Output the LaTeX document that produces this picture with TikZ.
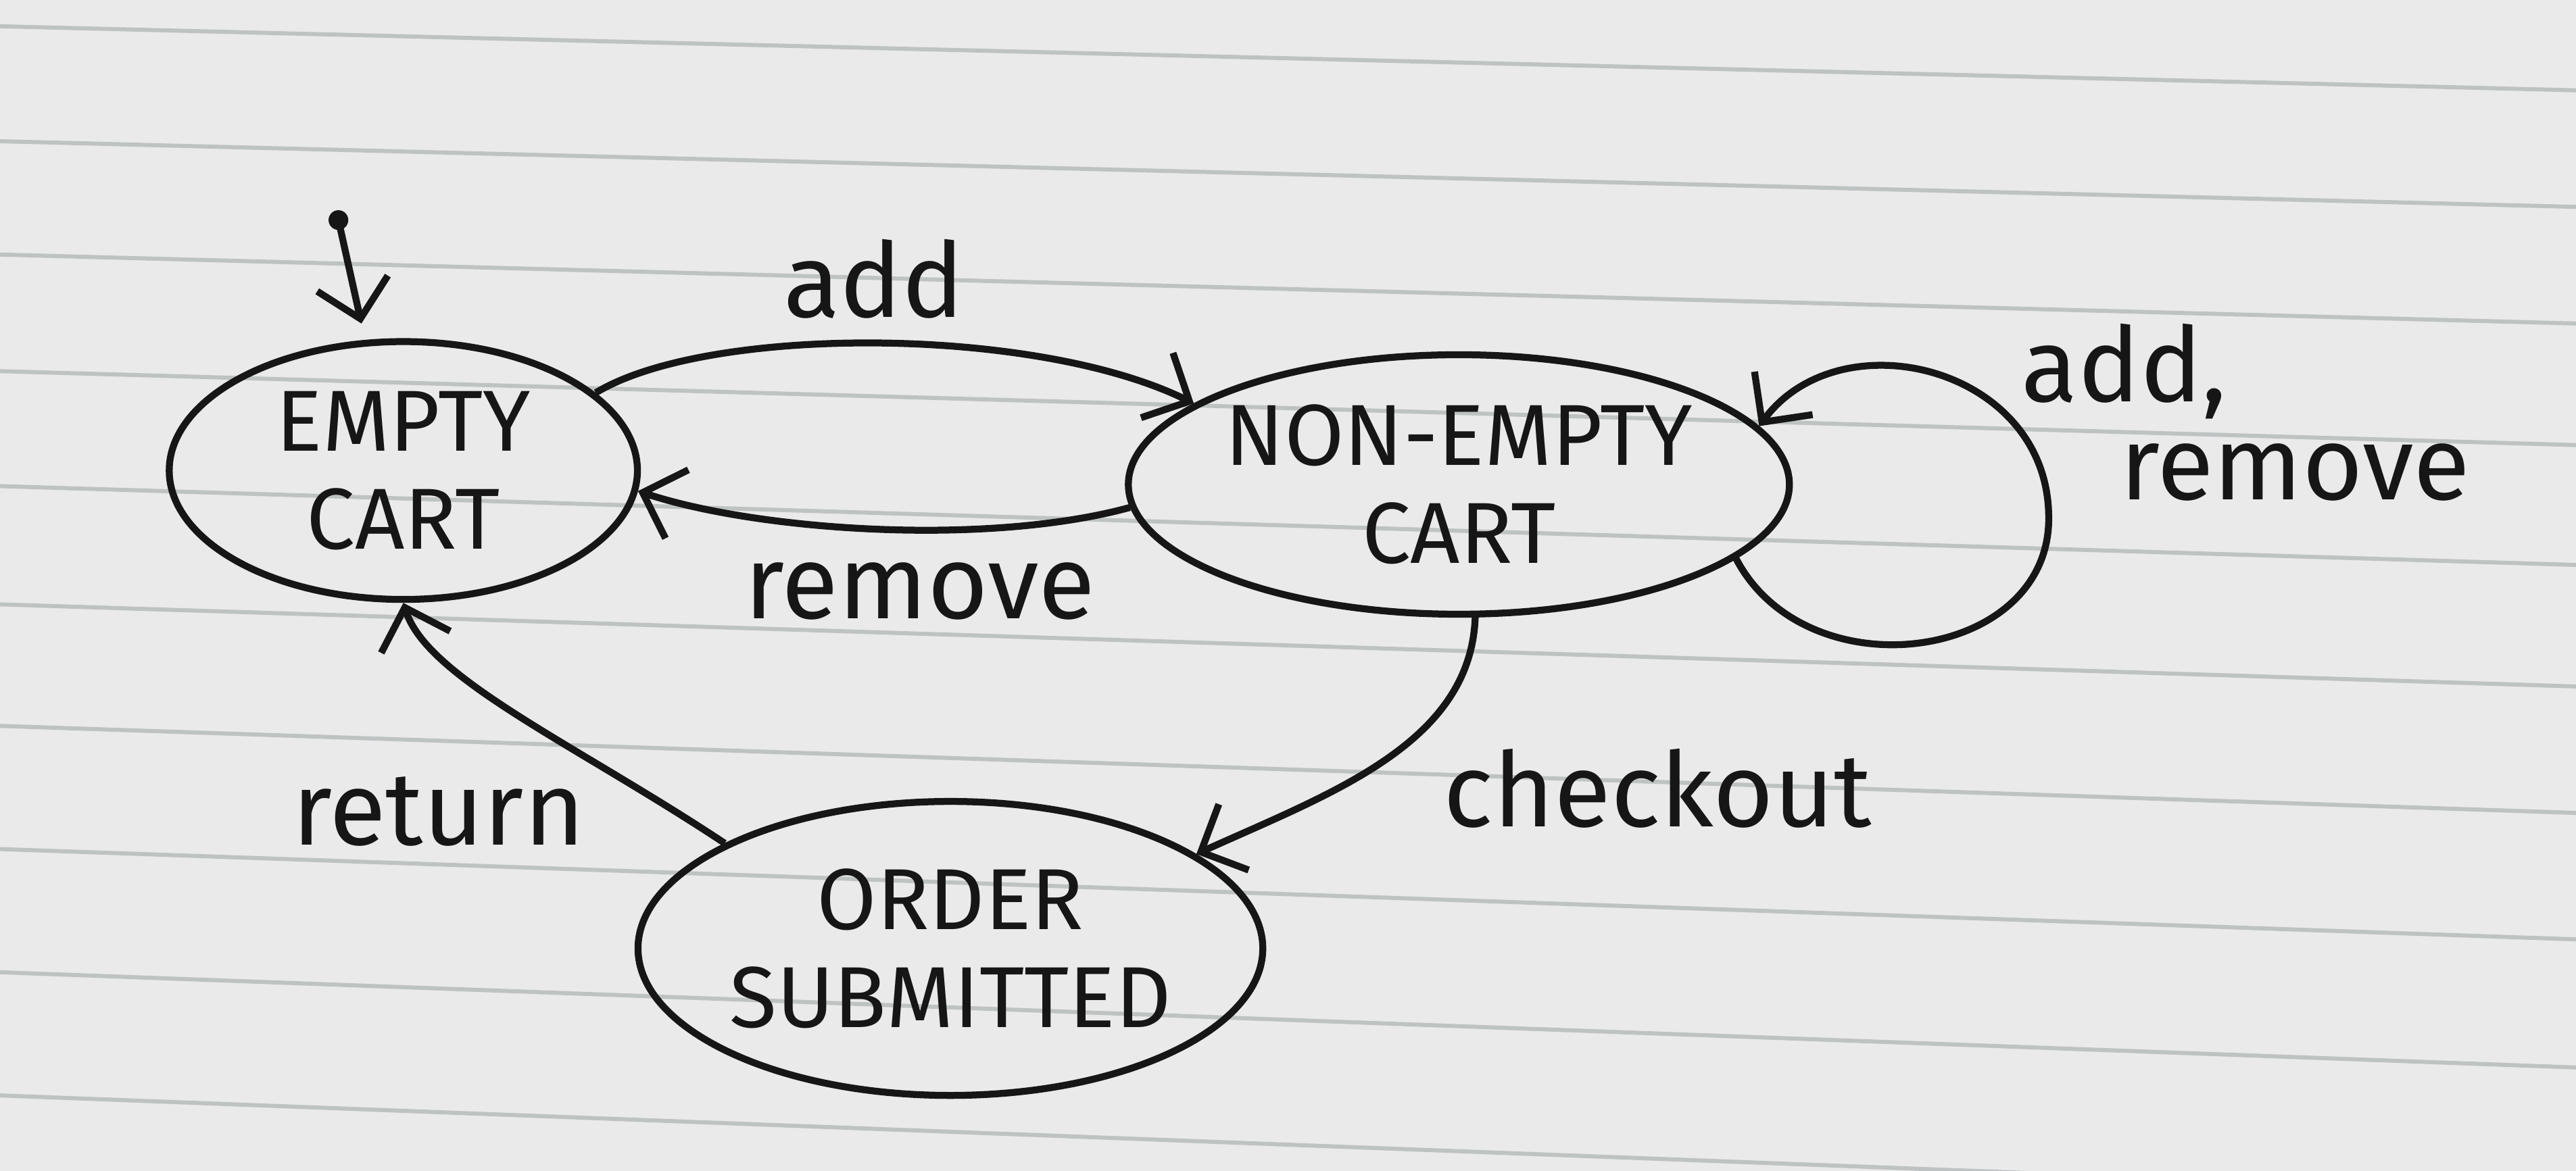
\documentclass[tikz,border=0pt]{standalone}
\usepackage{fontspec}
\setmainfont{Fira Sans}
\usetikzlibrary{arrows.meta,shapes.geometric}
\definecolor{paper}{RGB}{233,234,233}
\definecolor{rule}{RGB}{190,194,194}
\definecolor{ink}{RGB}{22,22,22}

\begin{document}
\begin{tikzpicture}[
        state/.style={draw=ink,ellipse,line width=1.2pt,inner sep=0pt,align=center,text=ink,font=\fontsize{15}{17}\selectfont},
        trans/.style={draw=ink,line width=1.2pt,-{Straight Barb[length=2.2mm,width=4.4mm]}},
        lbl/.style={text=ink,font=\fontsize{18}{17}\selectfont}
    ]
        \useasboundingbox (0,0) rectangle (15.68,7.13);
        \fill[paper] (0,0) rectangle (15.68,7.13);
        \foreach \l/\r in {6.97/6.58,6.27/5.87,5.58/5.16,4.87/4.42,4.17/3.69,3.45/2.95,2.71/2.18,1.96/1.41,1.21/0.63,0.46/-0.14}
            \draw[rule,line width=0.7pt] (0,\l) -- (15.68,\r);

        \node[state,minimum width=2.85cm,minimum height=1.57cm] (empty) at (2.455,4.265) {EMPTY\\CART};
        \node[state,minimum width=3.84cm,minimum height=1.58cm] (nonempty) at (8.88,4.18) {NON-EMPTY\\CART};
        \node[state,minimum width=3.21cm,minimum height=1.79cm] (order) at (5.785,1.355) {ORDER\\SUBMITTED};

        \coordinate (init) at (2.06,5.79);
        \coordinate (initend) at (2.20,5.16);
        \fill[ink] (init) circle (0.06);
        \draw[trans] (init) -- (initend);

        \draw[trans] (empty.22) .. controls (4.3,5.15) and (6.3,5.15) .. (nonempty.163);
        \draw[trans] (nonempty.184) .. controls (6.0,3.8) and (4.6,3.9) .. (empty.-5);
        \draw[trans] (nonempty.-15) .. controls (11.0,2.9) and (12.5,3.1) .. (12.47,4.0)
            .. controls (12.45,4.9) and (11.2,5.2) .. (nonempty.11);
        \draw[trans] (nonempty.-83) .. controls (8.95,2.6) and (8.1,2.3) .. (order.21);
        \draw[trans] (order.155) .. controls (3.5,2.6) and (2.6,3.0) .. (empty.south);

        \node[lbl] (addlbl) at (5.32,5.43) {add};
        \node[lbl] (removelbl) at (5.6,3.53) {remove};
        \node[lbl,align=left] (looplbl) at (13.67,4.62) {add,\\\hspace*{0.6cm}remove};
        \node[lbl] (checkoutlbl) at (10.09,2.33) {checkout};
        \node[lbl] (returnlbl) at (2.67,2.19) {return};
\end{tikzpicture}
\end{document}
